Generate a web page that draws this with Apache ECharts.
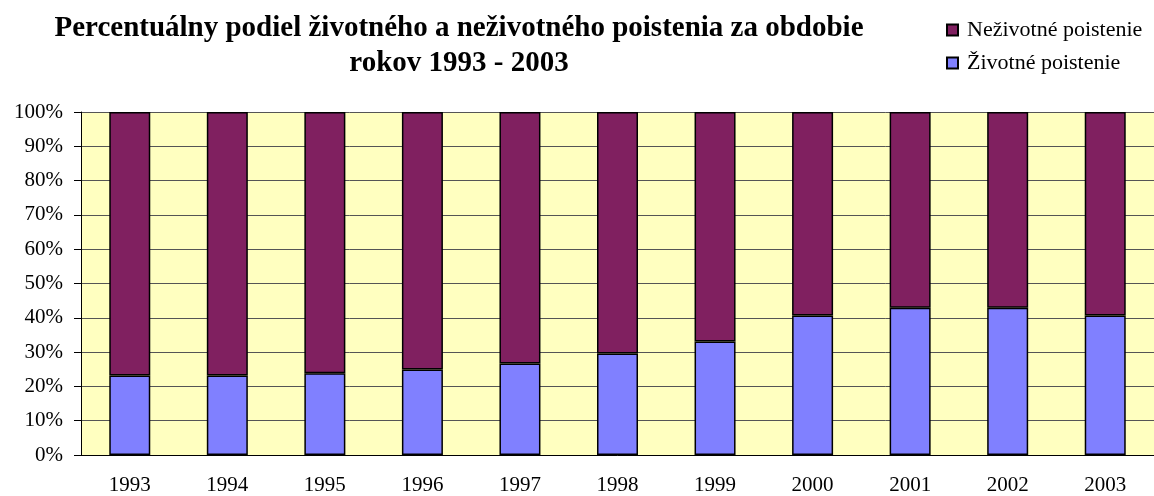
<!DOCTYPE html>
<html>
<head>
<meta charset="utf-8">
<script src="https://cdn.jsdelivr.net/npm/echarts@6/dist/echarts.min.js"></script>
<style>
  html, body { margin: 0; padding: 0; background: #fff; }
  #chart { width: 1154px; height: 496px; }
</style>
</head>
<body>
<div id="chart"></div>
<script>
// roky
var years = ['1993', '1994', '1995', '1996', '1997', '1998', '1999', '2000', '2001', '2002', '2003'];
// podiel v %
var zivotne = [23.2, 23.2, 23.8, 24.9, 26.7, 29.6, 33.1, 40.7, 42.9, 42.9, 40.7];
var nezivotne = [76.8, 76.8, 76.2, 75.1, 73.3, 70.4, 66.9, 59.3, 57.1, 57.1, 59.3];

var font = '"Liberation Serif", "Times New Roman", serif';

var chart = echarts.init(document.getElementById('chart'));
chart.setOption({
    animation: false,
    title: {
        text: 'Percentuálny podiel životného a neživotného poistenia za obdobie\nrokov 1993 - 2003',
        left: 459,
        top: 11,
        padding: 0,
        textAlign: 'center',
        textStyle: { fontFamily: font, fontSize: 29, fontWeight: 'bold', color: '#000', lineHeight: 35 }
    },
    legend: {
        orient: 'vertical',
        left: 946,
        top: 19,
        padding: 0,
        itemWidth: 11,
        itemHeight: 11,
        itemGap: 11,
        icon: 'rect',
        data: ['Neživotné poistenie', 'Životné poistenie'],
        textStyle: { fontFamily: font, fontSize: 22, color: '#000', lineHeight: 22, padding: [0, 0, 0, 4] }
    },
    grid: {
        left: 81,
        right: -12,
        top: 112,
        bottom: 40,
        show: true,
        backgroundColor: '#FFFFC0',
        borderWidth: 0
    },
    xAxis: {
        type: 'category',
        data: years,
        axisLine: { lineStyle: { color: '#000', width: 1 } },
        axisTick: { length: 6, lineStyle: { color: '#000' } },
        axisLabel: { fontFamily: font, fontSize: 21, color: '#000', margin: 20 }
    },
    yAxis: {
        type: 'value',
        min: 0,
        max: 100,
        interval: 10,
        axisLine: { show: true, lineStyle: { color: '#000', width: 1 } },
        axisTick: { show: true, length: 7, lineStyle: { color: '#000' } },
        axisLabel: { fontFamily: font, fontSize: 21, color: '#000', margin: 18, formatter: '{value}%' },
        splitLine: { lineStyle: { color: '#555', width: 1 } }
    },
    series: [
        {
            name: 'Životné poistenie',
            type: 'bar',
            stack: 'spolu',
            barWidth: 41,
            data: zivotne,
            itemStyle: { color: '#8080FF', borderColor: '#000', borderWidth: 1.5 }
        },
        {
            name: 'Neživotné poistenie',
            type: 'bar',
            stack: 'spolu',
            barWidth: 41,
            data: nezivotne,
            itemStyle: { color: '#802060', borderColor: '#000', borderWidth: 1.5 }
        }
    ]
});
</script>
</body>
</html>
